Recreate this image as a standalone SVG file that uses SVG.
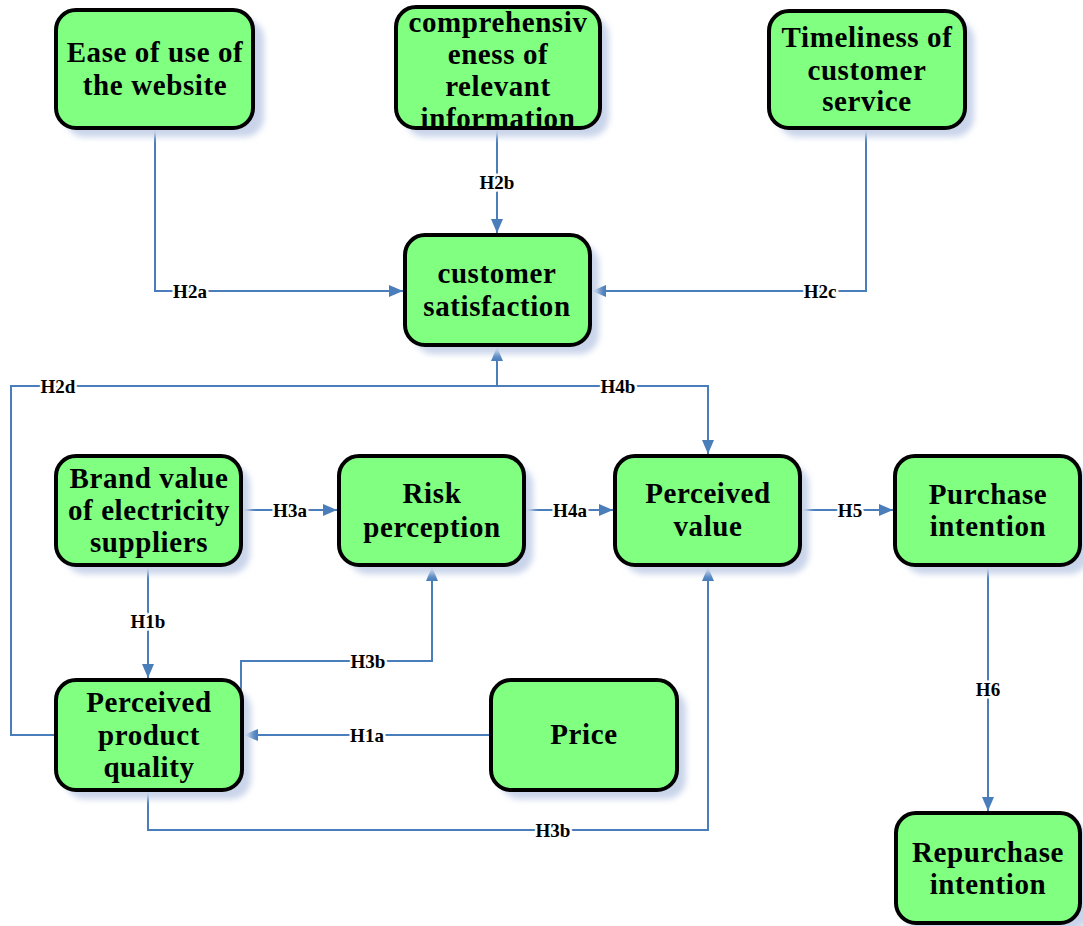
<svg xmlns="http://www.w3.org/2000/svg" width="1083" height="926" viewBox="0 0 1083 926">
<style>
.box{fill:#80ff80;stroke:#000;stroke-width:4}
.sh{fill:#c9d4ea;filter:url(#blur)}
.t{font-family:"Liberation Serif","Times New Roman",serif;font-weight:bold;font-size:29px;letter-spacing:0.6px;text-anchor:middle;fill:#000}
.c{fill:none;stroke:#4a7ebb;stroke-width:2}
.l{font-family:"Liberation Serif","Times New Roman",serif;font-weight:bold;font-size:19px;text-anchor:middle;fill:#000;stroke:#fff;stroke-width:5;paint-order:stroke;dominant-baseline:central}
</style>
<defs>
<filter id="blur" x="-20%" y="-20%" width="140%" height="140%"><feGaussianBlur stdDeviation="3"/></filter>
<marker id="a" viewBox="0 0 14 12" refX="14" refY="6" markerWidth="14" markerHeight="12" markerUnits="userSpaceOnUse" orient="auto"><path d="M0,0 L14,6 L0,12 Z" fill="#4a7ebb"/></marker>
</defs>
<rect width="1083" height="926" fill="#fff"/>
<g id="connectors">
<path class="c" d="M155,128 V291 H403" marker-end="url(#a)"/>
<path class="c" d="M497,128 V233" marker-end="url(#a)"/>
<path class="c" d="M866,128 V291 H592" marker-end="url(#a)"/>
<path class="c" d="M56,735 H11 V386 H497 V347" marker-end="url(#a)"/>
<path class="c" d="M497,386 H708 V454" marker-end="url(#a)"/>
<path class="c" d="M241,510 H337" marker-end="url(#a)"/>
<path class="c" d="M524,510 H613" marker-end="url(#a)"/>
<path class="c" d="M800,510 H893" marker-end="url(#a)"/>
<path class="c" d="M148,565 V678" marker-end="url(#a)"/>
<path class="c" d="M241,703 V661 H432 V567" marker-end="url(#a)"/>
<path class="c" d="M491,735 H244" marker-end="url(#a)"/>
<path class="c" d="M148,790 V830 H708 V567" marker-end="url(#a)"/>
<path class="c" d="M988,565 V811" marker-end="url(#a)"/>
<text class="l" x="190" y="291">H2a</text>
<text class="l" x="497" y="182">H2b</text>
<text class="l" x="820" y="291">H2c</text>
<text class="l" x="58" y="386">H2d</text>
<text class="l" x="618" y="386">H4b</text>
<text class="l" x="290" y="510">H3a</text>
<text class="l" x="570" y="510">H4a</text>
<text class="l" x="850" y="510">H5</text>
<text class="l" x="148" y="621">H1b</text>
<text class="l" x="368" y="661">H3b</text>
<text class="l" x="367" y="735">H1a</text>
<text class="l" x="553" y="830">H3b</text>
<text class="l" x="988" y="689">H6</text>
</g>
<g id="ease">
<rect class="sh" x="65" y="19" width="199" height="118" rx="20"/>
<rect class="box" x="56" y="10" width="197" height="118" rx="20"/>
<text class="t" x="155" y="62">Ease of use of</text>
<text class="t" x="155" y="95">the website</text>
</g>
<g id="comprehensiveness">
<rect class="sh" x="405" y="16" width="204" height="121" rx="20"/>
<rect class="box" x="396" y="7" width="204" height="121" rx="20"/>
<text class="t" x="498" y="32">comprehensiv</text>
<text class="t" x="498" y="64">eness of</text>
<text class="t" x="498" y="96">relevant</text>
<text class="t" x="498" y="128">information</text>
</g>
<g id="timeliness">
<rect class="sh" x="778" y="20" width="196" height="117" rx="20"/>
<rect class="box" x="769" y="11" width="196" height="117" rx="20"/>
<text class="t" x="867" y="47">Timeliness of</text>
<text class="t" x="867" y="80">customer</text>
<text class="t" x="867" y="111">service</text>
</g>
<g id="satisfaction">
<rect class="sh" x="414" y="244" width="185" height="110" rx="20"/>
<rect class="box" x="405" y="235" width="185" height="110" rx="20"/>
<text class="t" x="497" y="283">customer</text>
<text class="t" x="497" y="316">satisfaction</text>
</g>
<g id="brand">
<rect class="sh" x="65" y="465" width="185" height="109" rx="20"/>
<rect class="box" x="56" y="456" width="185" height="109" rx="20"/>
<text class="t" x="149" y="488">Brand value</text>
<text class="t" x="149" y="520">of electricity</text>
<text class="t" x="149" y="552">suppliers</text>
</g>
<g id="risk">
<rect class="sh" x="348" y="465" width="185" height="109" rx="20"/>
<rect class="box" x="339" y="456" width="185" height="109" rx="20"/>
<text class="t" x="432" y="503">Risk</text>
<text class="t" x="432" y="537">perception</text>
</g>
<g id="value">
<rect class="sh" x="624" y="465" width="185" height="109" rx="20"/>
<rect class="box" x="615" y="456" width="185" height="109" rx="20"/>
<text class="t" x="708" y="503">Perceived</text>
<text class="t" x="708" y="536">value</text>
</g>
<g id="purchase">
<rect class="sh" x="904" y="465" width="185" height="109" rx="20"/>
<rect class="box" x="895" y="456" width="185" height="109" rx="20"/>
<text class="t" x="988" y="504">Purchase</text>
<text class="t" x="988" y="536">intention</text>
</g>
<g id="quality">
<rect class="sh" x="65" y="689" width="186" height="110" rx="20"/>
<rect class="box" x="56" y="680" width="186" height="110" rx="20"/>
<text class="t" x="149" y="712">Perceived</text>
<text class="t" x="149" y="745">product</text>
<text class="t" x="149" y="777">quality</text>
</g>
<g id="price">
<rect class="sh" x="500" y="689" width="186" height="110" rx="20"/>
<rect class="box" x="491" y="680" width="186" height="110" rx="20"/>
<text class="t" x="584" y="744">Price</text>
</g>
<g id="repurchase">
<rect class="sh" x="905" y="822" width="184" height="110" rx="20"/>
<rect class="box" x="896" y="813" width="184" height="110" rx="20"/>
<text class="t" x="988" y="862">Repurchase</text>
<text class="t" x="988" y="894">intention</text>
</g>
</svg>
